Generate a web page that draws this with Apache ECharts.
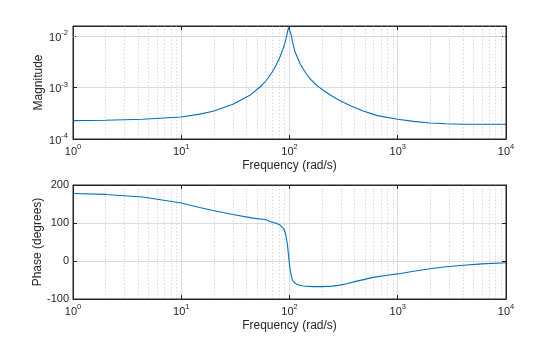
<!DOCTYPE html>
<html>
<head>
<meta charset="utf-8">
<script src="https://cdn.jsdelivr.net/npm/echarts@6/dist/echarts.min.js"></script>
<style>
  html, body { margin: 0; padding: 0; background: #ffffff; }
  #chart { width: 560px; height: 337px; }
</style>
</head>
<body>
<div id="chart"></div>
<script>
// ---- Data ----
const magFreq = [1, 2, 4.4, 10, 14.8, 19.7, 30, 43, 51.3, 55.5, 61.3, 68.6, 75, 81.5, 87, 91, 94, 96.4, 98, 99.5, 101.5, 103.5, 107, 112, 118, 125, 132, 142, 155, 175, 190, 205, 240, 290, 370, 479, 650, 1000, 1400, 1980, 2800, 4050, 6000, 10000];
const magValues = [2.28e-4, 2.31e-4, 2.42e-4, 2.68e-4, 3.05e-4, 3.46e-4, 4.73e-4, 7.08e-4, 9.6e-4, 1.1e-3, 1.39e-3, 1.95e-3, 2.7e-3, 3.9e-3, 5.6e-3, 7.6e-3, 1.0e-2, 1.28e-2, 1.48e-2, 1.58e-2, 1.45e-2, 1.08e-2, 7.5e-3, 5.1e-3, 3.9e-3, 2.95e-3, 2.4e-3, 1.9e-3, 1.48e-3, 1.15e-3, 1.0e-3, 8.9e-4, 7.1e-4, 5.6e-4, 4.4e-4, 3.51e-4, 2.85e-4, 2.42e-4, 2.2e-4, 2.05e-4, 1.98e-4, 1.94e-4, 1.93e-4, 1.93e-4];

const phaseFreq = [1, 2, 4.4, 10, 14.8, 19.7, 30, 45.8, 61, 65.8, 75, 81.3, 87.3, 90, 92.4, 95.8, 98.5, 100.5, 102.1, 104, 106.6, 110, 116.1, 124, 133.6, 165, 200, 250, 292, 336, 420, 593, 800, 1000, 1400, 1980, 2800, 4050, 6000, 10000];
const phaseValues = [177.8, 175.2, 168.3, 152.5, 141, 133, 122.5, 112.9, 108.4, 104, 99.5, 95.3, 86.5, 80, 69, 42.5, 7.4, -14, -28, -40, -50, -56, -61, -64, -65.7, -67.5, -67.5, -66, -63.5, -60, -53, -43, -37.5, -34, -27, -20.5, -15, -11, -7.5, -4.5];

const magTicks = [1e-4, 1e-3, 1e-2];
const phaseTicks = [-100, 0, 100, 200];
const freqTicks = [1, 10, 100, 1000, 10000];

// ---- helpers ----
const AX = '#262626';
const GRID = '#dcdcdc';
const MINOR = '#cfcfcf';
const LINE = '#0072BD';
const FONT = '"Liberation Sans", Arial, Helvetica, sans-serif';

function pow10Label(v) {
  const e = Math.log10(v);
  const r = Math.round(e);
  if (Math.abs(e - r) > 1e-6) return '';
  return '{b|10}{s|' + r + '}';
}
const powRich = {
  b: { fontSize: 11, fontFamily: FONT, color: AX, verticalAlign: 'bottom', lineHeight: 14 },
  s: { fontSize: 7.5, fontFamily: FONT, color: AX, verticalAlign: 'top', padding: [0, 0, 6, 0], lineHeight: 14 }
};

// minor grid positions (2..9 in each decade)
const minorX = [];
for (let d = 0; d < 4; d++) for (let k = 2; k <= 9; k++) minorX.push(k * Math.pow(10, d));
const minorY = [];
for (let d = -4; d < -2; d++) for (let k = 2; k <= 9; k++) minorY.push(k * Math.pow(10, d));

const minorStyle = { color: MINOR, width: 0.8, type: [1.5, 2] };

function xAxisPair(gridIndex) {
  return [
    {
      type: 'log', logBase: 10, gridIndex: gridIndex, min: 1, max: 10000, position: 'bottom',
      axisLine: { show: true, onZero: false, lineStyle: { color: AX, width: 1 } },
      axisTick: { show: true, inside: true, length: 4, lineStyle: { color: AX } },
      axisLabel: { formatter: pow10Label, rich: powRich, margin: 4 },
      splitLine: { show: true, lineStyle: { color: GRID, width: 1 } },
      minorTick: { show: false }, minorSplitLine: { show: false },
      name: 'Frequency (rad/s)', nameLocation: 'middle', nameGap: 21,
      nameTextStyle: { fontSize: 12, fontFamily: FONT, color: AX }
    },
    {
      type: 'log', logBase: 10, gridIndex: gridIndex, min: 1, max: 10000, position: 'top',
      axisLine: { show: true, onZero: false, lineStyle: { color: AX, width: 1 } },
      axisTick: { show: true, inside: true, length: 4, lineStyle: { color: AX } },
      axisLabel: { show: false }, splitLine: { show: false }
    }
  ];
}

const xAxes = xAxisPair(0).concat(xAxisPair(1));

const yAxes = [
  {
    type: 'log', logBase: 10, gridIndex: 0, min: 1e-4, max: 0.0158, position: 'left',
    axisLine: { show: true, lineStyle: { color: AX, width: 1 } },
    axisTick: { show: true, inside: true, length: 4, lineStyle: { color: AX } },
    axisLabel: { formatter: pow10Label, rich: powRich, margin: 5, showMaxLabel: false },
    splitLine: { show: true, lineStyle: { color: GRID, width: 1 } },
    name: 'Magnitude', nameLocation: 'middle', nameGap: 28, nameMoveOverlap: false,
    nameTextStyle: { fontSize: 12, fontFamily: FONT, color: AX }
  },
  {
    type: 'log', logBase: 10, gridIndex: 0, min: 1e-4, max: 0.0158, position: 'right',
    axisLine: { show: true, lineStyle: { color: AX, width: 1 } },
    axisTick: { show: true, inside: true, length: 4, lineStyle: { color: AX } },
    axisLabel: { show: false }, splitLine: { show: false }
  },
  {
    type: 'value', gridIndex: 1, min: -100, max: 200, interval: 100, position: 'left',
    axisLine: { show: true, onZero: false, lineStyle: { color: AX, width: 1 } },
    axisTick: { show: true, inside: true, length: 4, lineStyle: { color: AX } },
    axisLabel: { fontSize: 11, fontFamily: FONT, color: AX, margin: 4 },
    splitLine: { show: true, lineStyle: { color: GRID, width: 1 } },
    name: 'Phase (degrees)', nameLocation: 'middle', nameGap: 29, nameMoveOverlap: false,
    nameTextStyle: { fontSize: 12, fontFamily: FONT, color: AX }
  },
  {
    type: 'value', gridIndex: 1, min: -100, max: 200, interval: 100, position: 'right',
    axisLine: { show: true, onZero: false, lineStyle: { color: AX, width: 1 } },
    axisTick: { show: true, inside: true, length: 4, lineStyle: { color: AX } },
    axisLabel: { show: false }, splitLine: { show: false }
  }
];

function minorSeries(xi, yi, withY) {
  const data = minorX.map(v => ({ xAxis: v }));
  if (withY) minorY.forEach(v => data.push({ yAxis: v }));
  return {
    type: 'line', xAxisIndex: xi, yAxisIndex: yi, data: [], silent: true, z: 1,
    markLine: {
      silent: true, symbol: ['none', 'none'], label: { show: false },
      lineStyle: minorStyle, animation: false, data: data
    }
  };
}

const option = {
  animation: false,
  backgroundColor: '#ffffff',
  grid: [
    { left: 73, right: 54, top: 26, height: 113, show: true, borderColor: AX, borderWidth: 1, backgroundColor: 'transparent', z: 10 },
    { left: 73, right: 54, top: 185, height: 114, show: true, borderColor: AX, borderWidth: 1, backgroundColor: 'transparent', z: 10 }
  ],
  xAxis: xAxes,
  yAxis: yAxes,
  series: [
    minorSeries(0, 0, true),
    minorSeries(2, 2, false),
    {
      type: 'line', xAxisIndex: 0, yAxisIndex: 0, z: 5,
      data: magFreq.map((f, i) => [f, magValues[i]]),
      showSymbol: false, smooth: false, clip: true,
      lineStyle: { color: LINE, width: 1.1 }
    },
    {
      type: 'line', xAxisIndex: 2, yAxisIndex: 2, z: 5,
      data: phaseFreq.map((f, i) => [f, phaseValues[i]]),
      showSymbol: false, smooth: false, clip: true,
      lineStyle: { color: LINE, width: 1.1 }
    }
  ]
};

const chart = echarts.init(document.getElementById('chart'), null, { renderer: 'canvas' });
chart.setOption(option);
</script>
</body>
</html>
